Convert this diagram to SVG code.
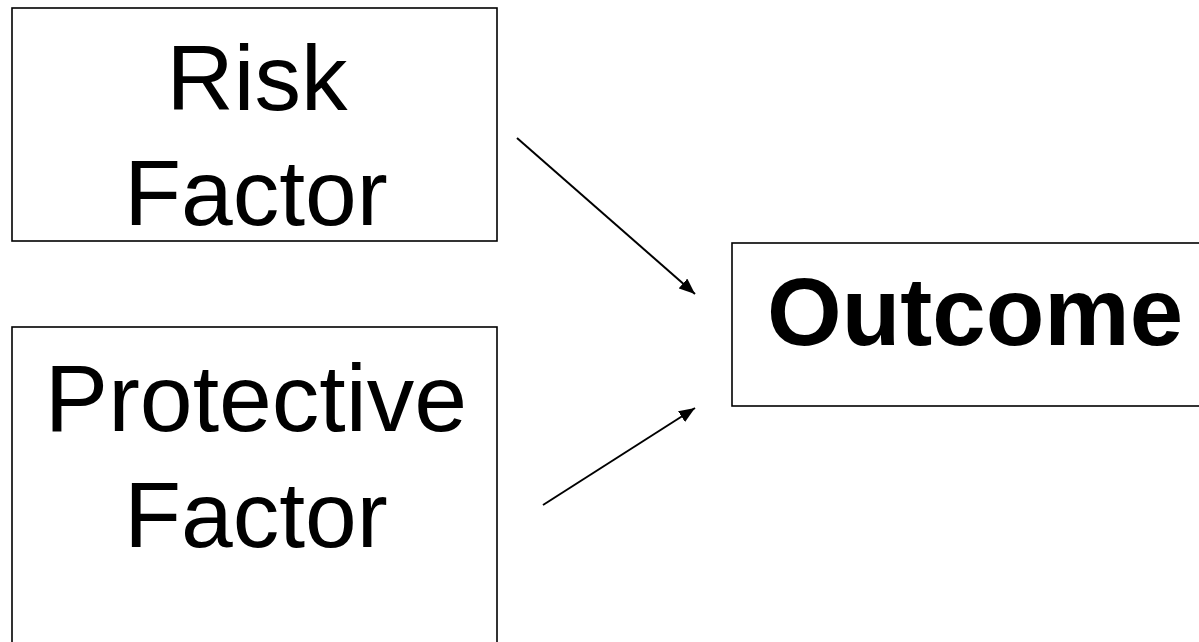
<svg xmlns="http://www.w3.org/2000/svg" width="1199" height="642" viewBox="0 0 1199 642">
  <style>
    .box { fill: #ffffff; stroke: #000000; stroke-width: 1.6; }
    .label { font-family: "Liberation Sans", Arial, sans-serif; font-size: 93px; fill: #000000; text-anchor: middle; }
    .big { font-size: 95px; }
    .bold { font-weight: bold; font-size: 96px; }
    .edge { stroke: #000000; stroke-width: 2; fill: none; marker-end: url(#arrow); }
  </style>
  <defs>
    <marker id="arrow" viewBox="0 0 16 13" refX="16" refY="6.5" markerWidth="16" markerHeight="13" markerUnits="userSpaceOnUse" orient="auto">
      <path d="M0,0 L16,6.5 L0,13 Z" fill="#000000"/>
    </marker>
  </defs>
  <rect width="1199" height="642" fill="#ffffff"/>

  <g id="risk-factor">
    <rect class="box" x="12" y="8" width="485" height="233"/>
    <text class="label" x="257" y="110">Risk</text>
    <text class="label" x="256" y="225">Factor</text>
  </g>

  <g id="protective-factor">
    <rect class="box" x="12" y="327" width="485" height="330"/>
    <text class="label big" x="256" y="431">Protective</text>
    <text class="label" x="256" y="547">Factor</text>
  </g>

  <g id="outcome">
    <rect class="box" x="732" y="243" width="490" height="163"/>
    <text class="label bold" x="975" y="345">Outcome</text>
  </g>

  <g id="connectors">
    <line class="edge" x1="517" y1="138" x2="695" y2="294"/>
    <line class="edge" x1="543" y1="505" x2="695" y2="408"/>
  </g>
</svg>
